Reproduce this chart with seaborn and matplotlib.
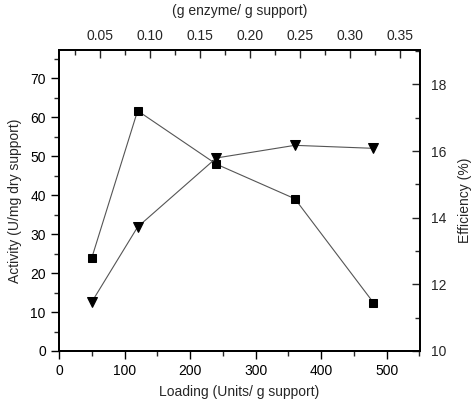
import numpy as np
import pandas as pd
import matplotlib
matplotlib.use("Agg")
import matplotlib.pyplot as plt
import seaborn as sns
from matplotlib.ticker import MultipleLocator

loading = [50, 120, 240, 360, 480]
activity = [23.9, 61.7, 48.0, 39.1, 12.4]
efficiency = [11.47, 13.72, 15.79, 16.17, 16.08]

df = pd.DataFrame({'Loading': loading, 'Activity': activity, 'Efficiency': efficiency})

sns.set_style('ticks')
plt.rcParams['font.family'] = ['Liberation Sans', 'DejaVu Sans']
plt.rcParams['font.size'] = 10

fig = plt.figure(figsize=(4.72, 4.01), dpi=100)
ax = fig.add_axes([0.125, 0.1247, 0.7648, 0.7506])

sns.lineplot(data=df, x='Loading', y='Activity', ax=ax, color='#555555', lw=0.8,
             marker='s', markersize=5.5, markerfacecolor='black', markeredgecolor='black')
ax.set_xlim(0, 551)
ax.set_ylim(0, 77.3)
ax.xaxis.set_major_locator(MultipleLocator(100))
ax.xaxis.set_minor_locator(MultipleLocator(50))
ax.yaxis.set_major_locator(MultipleLocator(10))
ax.yaxis.set_minor_locator(MultipleLocator(5))
ax.tick_params(which='major', direction='out', length=6, width=1, colors='black')
ax.tick_params(which='minor', direction='out', length=3.5, width=1)
ax.set_xlabel('Loading (Units/ g support)', labelpad=5)
ax.set_ylabel('Activity (U/mg dry support)', labelpad=6)

ax2 = ax.twinx()
sns.lineplot(data=df, x='Loading', y='Efficiency', ax=ax2, color='#555555', lw=0.8,
             marker='v', markersize=7, markerfacecolor='black', markeredgecolor='black')
ax2.set_ylim(10, 19.03)
ax2.yaxis.set_major_locator(MultipleLocator(2))
ax2.yaxis.set_minor_locator(MultipleLocator(1))
ax2.tick_params(which='major', direction='in', length=6, width=1, pad=8)
ax2.tick_params(which='minor', direction='in', length=3.5, width=1)
ax2.set_ylabel('Efficiency (%)', labelpad=8)

ax3 = ax.twiny()
ax3.set_xlim(0.009, 0.37)
ax3.xaxis.set_minor_locator(MultipleLocator(0.025))
ax3.set_xticks([0.05, 0.10, 0.15, 0.20, 0.25, 0.30, 0.35])
ax3.set_xticklabels(['0.05', '0.10', '0.15', '0.20', '0.25', '0.30', '0.35'])
ax3.tick_params(which='major', direction='in', length=6, width=1, pad=5)
ax3.tick_params(which='minor', direction='in', length=3.5, width=1)
ax3.set_xlabel('(g enzyme/ g support)', labelpad=10)

for a in (ax, ax2, ax3):
    for s in a.spines.values():
        s.set_linewidth(1.2)
        s.set_color('black')

fig.savefig('out.png', dpi=100)
